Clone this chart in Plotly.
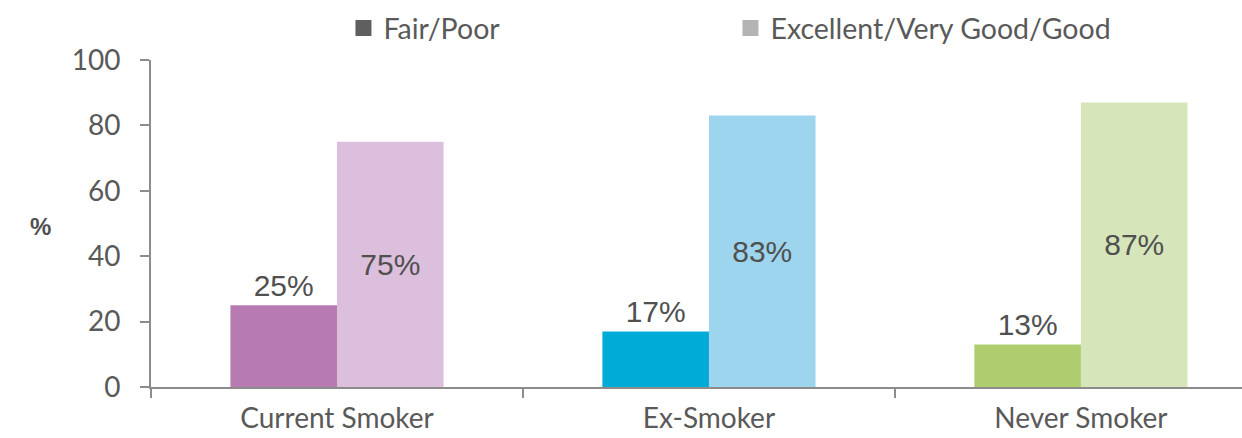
import plotly.graph_objects as go

categories = ["Current Smoker", "Ex-Smoker", "Never Smoker"]
fair_poor = [25, 17, 13]
excellent_good = [75, 83, 87]
series_names = ["Fair/Poor", "Excellent/Very Good/Good"]

fair_colors = ["#B87BB1", "#00ABD8", "#ADCD6E"]
good_colors = ["#DCBFDD", "#9DD5EE", "#D6E6BA"]
legend_colors = ["#5F5F5F", "#B4B4B4"]

axis_color = "#8C8C8C"
text_color = "#595959"
label_font = dict(family="Liberation Sans, Arial, sans-serif", size=30, color="#505050")

fig = go.Figure()

fig.add_trace(go.Bar(
    x=categories, y=fair_poor, name=series_names[0],
    marker=dict(color=fair_colors, line=dict(width=0)),
    text=[f"{v}%" for v in fair_poor], textposition="outside",
    textfont=label_font, cliponaxis=False, showlegend=False,
    hoverinfo="skip",
))
fig.add_trace(go.Bar(
    x=categories, y=excellent_good, name=series_names[1],
    marker=dict(color=good_colors, line=dict(width=0)),
    text=[f"{v}%" for v in excellent_good], textposition="inside",
    insidetextanchor="middle", textangle=0,
    textfont=label_font, showlegend=False,
    hoverinfo="skip",
))

# legend entries drawn with neutral grey swatches
for name, col in zip(series_names, legend_colors):
    fig.add_trace(go.Scatter(
        x=[None], y=[None], mode="markers", name=name,
        marker=dict(symbol="square", size=18, color=col),
        showlegend=True, hoverinfo="skip",
    ))

fig.add_annotation(
    text="<b>%</b>", xref="paper", yref="paper", x=-0.1017, y=0.49,
    xanchor="center", yanchor="middle", showarrow=False,
    font=dict(family="Liberation Sans, Arial, sans-serif", size=24, color="#505050"),
)

fig.update_layout(
    width=1242, height=438,
    margin=dict(l=151, r=0, t=60, b=51, autoexpand=False),
    paper_bgcolor="white", plot_bgcolor="white",
    barmode="group", bargap=0.427, bargroupgap=0,
    font=dict(family="Lato, sans-serif", color=text_color),
    showlegend=True,
    legend=dict(
        orientation="h", x=0.1764, xanchor="left", y=0.935, yanchor="middle",
        yref="container",
        font=dict(family="Lato, sans-serif", size=28.5, color=text_color),
        entrywidth=342, entrywidthmode="pixels",
        bgcolor="rgba(0,0,0,0)",
    ),
    xaxis=dict(
        type="category", range=[-0.5, 2.433],
        showline=True, linecolor=axis_color, linewidth=2,
        ticks="outside", tickson="boundaries", ticklen=9, tickcolor=axis_color, tickwidth=2,
        tickfont=dict(family="Lato, sans-serif", size=28, color=text_color),
        ticklabelstandoff=5,
        showgrid=False, zeroline=False,
    ),
    yaxis=dict(
        range=[0, 100], tickvals=[0, 20, 40, 60, 80, 100],
        showline=True, linecolor=axis_color, linewidth=2,
        ticks="outside", ticklen=9, tickcolor=axis_color, tickwidth=2,
        tickfont=dict(family="Lato, sans-serif", size=28, color=text_color),
        ticklabelstandoff=14,
        showgrid=False, zeroline=False,
    ),
)

fig.write_html("out.html")
